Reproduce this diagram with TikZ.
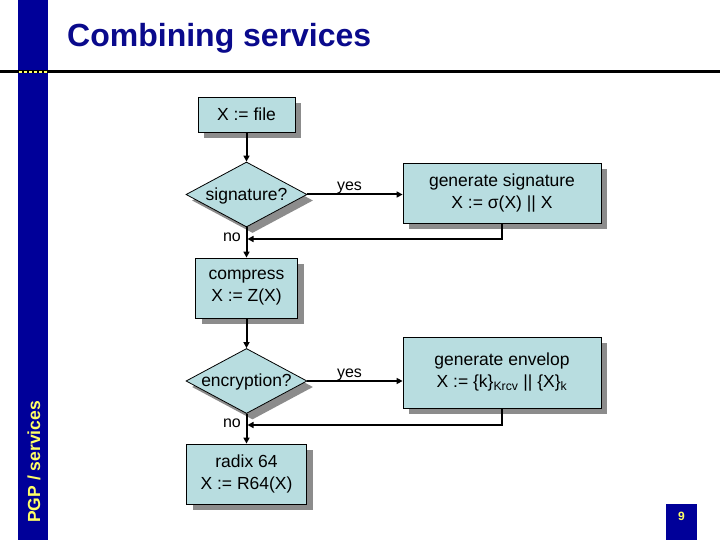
\documentclass[tikz,border=0pt]{standalone}
\usepackage{fontspec}
\setmainfont{Liberation Sans}
\usetikzlibrary{shapes.geometric,arrows.meta,shadows}
\definecolor{barblue}{HTML}{000099}
\definecolor{titleblue}{HTML}{0A0A8C}
\definecolor{boxfill}{HTML}{B8DDE0}
\definecolor{shadowgray}{HTML}{8C8C8C}
\definecolor{paleyellow}{HTML}{FFFF66}
\tikzset{
  shade6/.style={drop shadow={shadow xshift=6pt, shadow yshift=-6pt, fill=shadowgray, opacity=1}},
  procbox/.style={draw=black, line width=0.8pt, fill=boxfill, shade6, inner sep=0pt, align=center,
    font=\fontsize{17.5}{22}\selectfont},
  decbox/.style={diamond, draw=black, line width=0.8pt, fill=boxfill, shade6, inner sep=0pt,
    minimum width=121pt, minimum height=65pt},
  dectext/.style={font=\fontsize{17.5}{22}\selectfont},
  conn/.style={line width=2pt, -{Triangle[length=6pt,width=6pt]}},
  lbl/.style={font=\fontsize{16}{19}\selectfont, inner sep=0pt}
}
\begin{document}
\begin{tikzpicture}[x=1pt,y=-1pt]
\useasboundingbox (0,0) rectangle (720,540);
\fill[white] (0,0) rectangle (720,540);
% side bar and header rule
\fill[barblue] (18,0) rectangle (48,540);
\draw[line width=3pt] (0,72) -- (720,72);
\draw[paleyellow, line width=2pt, dash pattern=on 3pt off 2pt] (19,72) -- (47,72);
\node[anchor=base west, text=titleblue, inner sep=0pt, font=\fontsize{32}{38}\bfseries\selectfont] (title) at (67,47) {Combining services};
\node[anchor=base west, rotate=90, text=paleyellow, inner sep=0pt, font=\fontsize{17.5}{20}\bfseries\selectfont] (side) at (40,523) {PGP / services};
\fill[barblue] (666,504) rectangle (697,540);
\node[text=paleyellow, inner sep=0pt, font=\fontsize{12}{14}\bfseries\selectfont] (pnum) at (681.5,516) {9};

% flowchart
\node[procbox, minimum width=97pt, minimum height=35pt] (file) at (246.5,114.5) {X := file};
\node[decbox] (sig) at (246.5,194.5) {};
\node[dectext] (sigt) at (246.5,196) {signature?};
\node[procbox, minimum width=198pt, minimum height=60pt] (gensig) at (502,193) {generate signature\\X := σ(X) || X};
\node[procbox, minimum width=102pt, minimum height=60pt] (comp) at (246.5,288) {compress\\X := Z(X)};
\node[decbox] (enc) at (246.5,381) {};
\node[dectext] (enct) at (246.5,382) {encryption?};
\node[procbox, minimum width=198pt, minimum height=71pt] (genenv) at (502,372.5) {generate envelop\\X := \{k\}\textsubscript{Krcv} || \{X\}\textsubscript{k}};
\node[procbox, minimum width=120pt, minimum height=60pt] (radix) at (246.5,474) {radix 64\\X := R64(X)};

\coordinate (j1) at (246.5,239);
\coordinate (j2) at (246.5,425);

\draw[conn] (file.south) -- (sig.north);
\draw[conn] (sig.east) -- (sig.east -| gensig.west);
\draw[conn] (gensig.south) |- ([xshift=1pt]j1);
\draw[conn] (sig.south) -- (comp.north);
\draw[conn] (comp.south) -- (enc.north);
\draw[conn] (enc.east) -- (enc.east -| genenv.west);
\draw[conn] (genenv.south) |- ([xshift=1pt]j2);
\draw[conn] (enc.south) -- (radix.north);

\node[lbl, anchor=base] (yes1) at (349.5,191) {yes};
\node[lbl, anchor=base] (yes2) at (349.5,377) {yes};
\node[lbl, anchor=base east] (no1) at (241,241) {no};
\node[lbl, anchor=base east] (no2) at (241,427) {no};
\end{tikzpicture}
\end{document}
